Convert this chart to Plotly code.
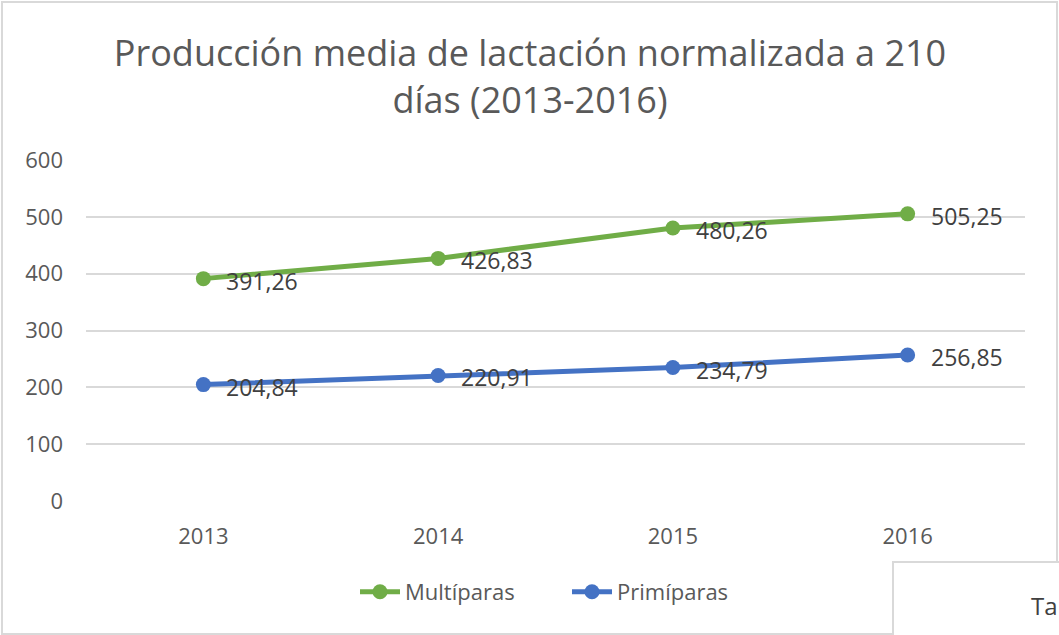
import plotly.graph_objects as go

years = ["2013", "2014", "2015", "2016"]
multiparas = [391.26, 426.83, 480.26, 505.25]
primiparas = [204.84, 220.91, 234.79, 256.85]
y_ticks = [0, 100, 200, 300, 400, 500, 600]

GREEN = "#70AD47"
BLUE = "#4472C4"
TEXT = "#595959"
FONT = "Open Sans"

W, H = 1059, 635
L, R, T, B = 86, 34, 160, 134
pw, ph = W - L - R, H - T - B


def px(x):
    return (x - L) / pw


def py(y):
    return (H - B - y) / ph


fig = go.Figure()
for name, vals, color in [("Multíparas", multiparas, GREEN), ("Primíparas", primiparas, BLUE)]:
    fig.add_trace(go.Scatter(
        x=years, y=vals, name=name, mode="lines+markers",
        line=dict(color=color, width=5),
        marker=dict(color=color, size=15),
        cliponaxis=False,
    ))

# value labels to the right of each point (x given as category index)
annotations = []
for vals in (multiparas, primiparas):
    for i, v in enumerate(vals):
        annotations.append(dict(
            x=i, y=v, xref="x", yref="y", text=f"{v:.2f}".replace(".", ","),
            xanchor="left", yanchor="middle", xshift=21, yshift=-2, showarrow=False,
            font=dict(family=FONT, size=23, color="#404040"),
        ))

annotations.append(dict(
    text="Ta", xref="paper", yref="paper", x=px(1029), y=py(605),
    xanchor="left", yanchor="middle", showarrow=False,
    font=dict(family=FONT, size=24, color="#404040"),
))

fig.update_layout(
    width=W, height=H,
    margin=dict(l=L, r=R, t=T, b=B),
    paper_bgcolor="white", plot_bgcolor="white",
    separators=",.",
    title=dict(
        text="Producción media de lactación normalizada a 210<br>días (2013-2016)",
        x=px(530), xref="paper", xanchor="center",
        y=1 - 66 / H, yanchor="middle",
        font=dict(family=FONT, size=36, color=TEXT),
    ),
    xaxis=dict(
        type="category", range=[-0.5, 3.5], showgrid=False, showline=False,
        ticks="", tickfont=dict(family=FONT, size=22, color=TEXT),
        ticklabelstandoff=20,
    ),
    yaxis=dict(
        range=[0, 600], tickvals=y_ticks, showgrid=True, gridcolor="#D9D9D9",
        gridwidth=2, zeroline=False, showline=False, ticks="",
        tickfont=dict(family=FONT, size=22, color=TEXT), ticklabelstandoff=22,
    ),
    legend=dict(
        orientation="h", x=px(567), xanchor="center", y=py(592), yanchor="middle",
        font=dict(family=FONT, size=22, color=TEXT), itemwidth=40,
        entrywidth=157,
    ),
    shapes=[
        dict(type="rect", xref="paper", yref="paper",
             x0=px(2), x1=px(1057), y0=py(634), y1=py(2),
             line=dict(color="#D9D9D9", width=2), fillcolor="rgba(0,0,0,0)", layer="below"),
        dict(type="rect", xref="paper", yref="paper",
             x0=px(893), x1=px(1080), y0=py(660), y1=py(562),
             line=dict(color="#D9D9D9", width=2), fillcolor="white", layer="above"),
    ],
    annotations=annotations,
    showlegend=True,
)

fig.write_html("out.html")
